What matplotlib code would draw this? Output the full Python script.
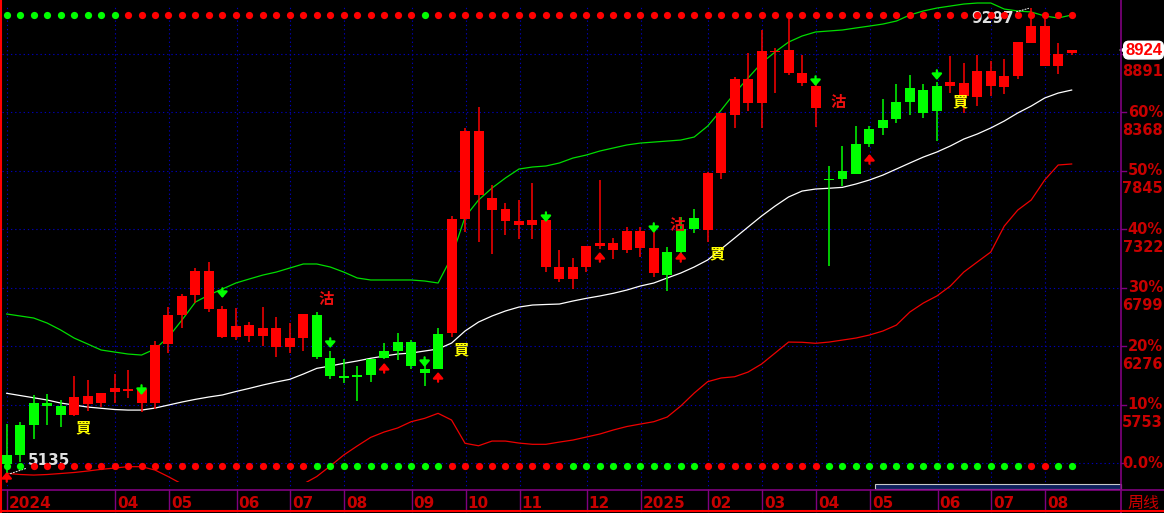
import matplotlib
matplotlib.use("Agg")
import matplotlib.pyplot as plt
import matplotlib.transforms as mtransforms
from matplotlib.lines import Line2D
from matplotlib.patches import Rectangle

# weekly candles, Feb 2024 .. Aug 2025
opens = [5304, 5572, 5772, 5772, 5742, 5662, 5760, 5772, 5870, 5876,
         5766, 5766, 6296, 6556, 6735, 6609, 6362, 6362, 6371, 6371,
         6272, 6272, 6353, 6556, 6171, 6013, 6019, 6162, 6234, 6314,
         6312, 6073, 6386, 6397, 7414, 7629, 7494, 7399, 7360, 7360,
         6988, 6878, 6878, 6988, 7175, 7137, 7137, 7157, 6929, 7122,
         7325, 7420, 7316, 7823, 8344, 8454, 8454, 8905, 8716, 8627,
         8409, 7775, 7845, 8084, 8218, 8298, 8457, 8582, 8567, 8603,
         8603, 8516, 8508, 8603, 8597, 8692, 8990, 8784, 8784, 8895]
highs = [5581, 5602, 5841, 5850, 5796, 6010, 5975, 5861, 6028, 6064,
         5894, 6326, 6630, 6744, 6973, 7030, 6640, 6621, 6496, 6630,
         6535, 6487, 6562, 6580, 6230, 6160, 6100, 6162, 6303, 6395,
         6333, 6160, 6442, 7444, 8228, 8418, 7718, 7554, 7584, 7735,
         7440, 7137, 7063, 7175, 7763, 7241, 7340, 7340, 7296, 7161,
         7429, 7503, 7835, 8360, 8680, 8901, 9104, 8946, 9245, 8880,
         8620, 7890, 8070, 8247, 8247, 8487, 8621, 8701, 8621, 8640,
         8871, 8806, 8880, 8823, 8842, 9000, 9297, 9208, 8990, 8925]
lows = [5135, 5240, 5447, 5572, 5557, 5653, 5700, 5731, 5772, 5816,
        5686, 5715, 6213, 6437, 6660, 6585, 6350, 6332, 6317, 6281,
        6183, 6219, 6234, 6160, 5984, 5950, 5790, 5960, 6160, 6153,
        6070, 5924, 6073, 6357, 7295, 7211, 7098, 7271, 7235, 7235,
        6938, 6854, 6788, 6943, 7150, 7056, 7107, 7077, 6898, 6773,
        7110, 7286, 7211, 7772, 8226, 8383, 8232, 8538, 8700, 8603,
        8241, 6997, 7712, 7814, 8060, 8165, 8275, 8344, 8320, 8114,
        8538, 8364, 8424, 8516, 8528, 8663, 8990, 8784, 8710, 8880]
closes = [5228, 5304, 5572, 5745, 5662, 5820, 5832, 5861, 5906, 5894,
          5894, 6288, 6556, 6726, 6952, 6952, 6609, 6457, 6466, 6442,
          6442, 6353, 6562, 6177, 6013, 5995, 5999, 6019, 6169, 6234,
          6103, 6035, 6073, 7414, 8201, 8201, 7604, 7503, 7399, 7405,
          7405, 6988, 6988, 7175, 7202, 7202, 7307, 7307, 7157, 6913,
          7122, 7325, 7823, 8360, 8666, 8666, 8916, 8912, 8925, 8722,
          8603, 7765, 7772, 7814, 8084, 8224, 8305, 8463, 8358, 8382,
          8641, 8627, 8737, 8737, 8692, 9000, 9139, 9139, 8889, 8924]

# bollinger lines
upper = [6565, 6547, 6529, 6484, 6422, 6350, 6297, 6243, 6225, 6207,
         6198, 6252, 6359, 6511, 6672, 6735, 6788, 6842, 6878, 6913,
         6940, 6976, 7012, 7012, 6985, 6940, 6887, 6869, 6869, 6869,
         6869, 6860, 6842, 7074, 7432, 7584, 7691, 7781, 7861, 7879,
         7888, 7915, 7959, 7986, 8022, 8049, 8076, 8093, 8102, 8111,
         8120, 8147, 8245, 8388, 8540, 8675, 8809, 8907, 8996, 9050,
         9086, 9095, 9104, 9122, 9139, 9157, 9184, 9238, 9274, 9300,
         9318, 9336, 9345, 9345, 9291, 9274, 9265, 9229, 9211, 9238]
middle = [5856, 5836, 5816, 5796, 5769, 5751, 5733, 5722, 5711, 5706,
          5706, 5724, 5751, 5778, 5802, 5823, 5841, 5872, 5900, 5930,
          5957, 5981, 6028, 6079, 6100, 6124, 6145, 6169, 6189, 6207,
          6216, 6234, 6252, 6305, 6413, 6493, 6547, 6592, 6627, 6645,
          6650, 6654, 6681, 6705, 6726, 6750, 6779, 6815, 6842, 6887,
          6931, 6985, 7048, 7146, 7244, 7343, 7441, 7530, 7611, 7664,
          7682, 7689, 7697, 7727, 7763, 7807, 7861, 7915, 7968, 8013,
          8067, 8129, 8174, 8228, 8290, 8362, 8424, 8496, 8540, 8567]
lower = [5141, 5130, 5125, 5130, 5139, 5148, 5161, 5176, 5188, 5200,
         5200, 5170, 5110, 5045, 4932, 4911, 4893, 4902, 4923, 4947,
         4973, 4986, 5045, 5112, 5206, 5304, 5385, 5462, 5510, 5546,
         5602, 5632, 5677, 5617, 5409, 5387, 5429, 5429, 5411, 5400,
         5400, 5420, 5438, 5465, 5492, 5528, 5559, 5581, 5602, 5644,
         5742, 5858, 5960, 5993, 6004, 6046, 6118, 6216, 6314, 6312,
         6303, 6314, 6332, 6350, 6377, 6413, 6466, 6583, 6663, 6726,
         6815, 6940, 7030, 7119, 7351, 7494, 7584, 7763, 7897, 7906]

# signal dot rows (G = green, R = red)
top_dots = ("GGGGGGGGGR" "RRRRRRRRRR" "RRRRRRRRRR" "RGRRRRRRRR"
            "RRRRRRRRRR" "RRRRRRRRRR" "RRRRRRRRRR" "RRRRRRRRRR")
bottom_dots = ("GGRRRRRRRR" "RRRRRRRRRR" "RRRGGGGGGG" "GGGRRRRRRR"
               "RRGGGGGGGG" "GGRRRRRRRR" "RGGGGGGGGG" "GGGGGGRRGG")

down_arrow_bars = [10, 16, 24, 31, 40, 48, 60, 69]
down_arrow_tips = [5841, 6708, 6261, 6091, 7387, 7289, 8603, 8657]
up_arrow_bars = [0, 28, 32, 44, 50, 64]
up_arrow_tips = [5152, 6127, 6046, 7119, 7119, 7995]

buy_bars = [5, 33, 52, 70]
buy_prices = [5550, 6247, 7110, 8469]
sell_bars = [23, 49, 61]
sell_prices = [6703, 7360, 8456]

month_bars = [0, 8, 12, 17, 21, 25, 30, 34, 38, 43, 47, 52, 56, 60, 64, 69, 73, 77]
month_labels = ['2024', '04', '05', '06', '07', '08', '09', '10', '11', '12',
                '2025', '02', '03', '04', '05', '06', '07', '08']

# 70% level sits under the last-price tag, so its label is left out
grid_prices = [5230, 5753, 6276, 6799, 7322, 7845, 8368, 8891]
pct_labels = ['0.0%', '10%', '20%', '30%', '40%', '50%', '60%', '']
price_labels = ['', '5753', '6276', '6799', '7322', '7845', '8368', '8891']
last_price = 8924

RED = '#ff0000'
GREEN = '#00ff00'
DKRED = '#c80000'
PURPLE = '#800080'
GRIDC = '#0000b8'
CJK = ['Noto Sans CJK TC', 'DejaVu Sans']

W, H = 1164, 513
fig = plt.figure(figsize=(W / 100, H / 100), dpi=100, facecolor='black')
ax = fig.add_axes([2 / W, 1 - 482 / H, 1119 / W, 482 / H])
ax.set_facecolor('black')
ax.set_xlim(-0.35, 82.66)
ax.set_ylim(5063, 9372)
ax.set_xticks([])
ax.set_yticks([])
for s in ax.spines.values():
    s.set_visible(False)

xaxis_tr = ax.get_xaxis_transform()
right_tr = mtransforms.blended_transform_factory(fig.transFigure, ax.transData)

# grid
for gp in grid_prices:
    ax.axhline(gp, color=GRIDC, lw=0.8, ls=(0, (1.2, 2.6)), zorder=1)
for mb in month_bars:
    ax.axvline(mb + 0.05, ymin=-0.016, ymax=0.985, color=GRIDC, lw=0.8,
               ls=(0, (1.2, 2.6)), zorder=1, clip_on=False)

# bands
x = list(range(len(closes)))
ax.plot(x, upper, color='#00dd00', lw=0.9, zorder=3)
ax.plot(x, middle, color='white', lw=0.9, zorder=3)
ax.plot(x, lower, color='#ee0000', lw=0.9, zorder=3)

# candles
for i in x:
    o, h, l, c = opens[i], highs[i], lows[i], closes[i]
    col = RED if c >= o else GREEN
    ax.vlines(i, l, h, color=col, lw=1.1, zorder=4)
    ax.bar(i, max(abs(c - o), 10), bottom=min(o, c), width=0.74,
           color=col, lw=0, zorder=4)

# dot rows
for i, ch in enumerate(top_dots):
    ax.plot(i, 0.969, 'o', ms=5.2, color=GREEN if ch == 'G' else RED,
            mew=0, transform=xaxis_tr, zorder=6, clip_on=False)
for i, ch in enumerate(bottom_dots):
    ax.plot(i, 0.034, 'o', ms=5.2, color=GREEN if ch == 'G' else RED,
            mew=0, transform=xaxis_tr, zorder=6, clip_on=False)

# arrows
for b, tip in zip(down_arrow_bars, down_arrow_tips):
    ax.annotate('', xy=(b, tip), xytext=(0, 7), textcoords='offset points',
                arrowprops=dict(arrowstyle='-|>,head_length=0.35,head_width=0.3',
                                color=GREEN, lw=1.6, mutation_scale=10,
                                shrinkA=0, shrinkB=0), zorder=7)
for b, tip in zip(up_arrow_bars, up_arrow_tips):
    ax.annotate('', xy=(b, tip), xytext=(0, -7), textcoords='offset points',
                arrowprops=dict(arrowstyle='-|>,head_length=0.35,head_width=0.3',
                                color=RED, lw=1.6, mutation_scale=10,
                                shrinkA=0, shrinkB=0), zorder=7)

# buy / sell text
for b, p in zip(buy_bars, buy_prices):
    ax.text(b + 0.7, p, '買', color='#ffff00', fontsize=11, fontweight='bold',
            family=CJK, ha='center', va='center', zorder=8)
for b, p in zip(sell_bars, sell_prices):
    ax.text(b + 0.7, p, '沽', color='#ee1010', fontsize=11, fontweight='bold',
            family=CJK, ha='center', va='center', zorder=8)

# low / high markers
lo_i = lows.index(min(lows))
hi_i = highs.index(max(highs))
ax.annotate(str(min(lows)), xy=(lo_i + 0.2, min(lows)), xytext=(1.6, 5255),
            color='#e0e0e0', fontsize=11, fontweight='bold', ha='left', va='center',
            arrowprops=dict(arrowstyle='-', color='#e0e0e0', lw=0.8, ls=':',
                            shrinkA=0, shrinkB=0), zorder=5)
ax.annotate(str(max(highs)), xy=(hi_i - 0.2, max(highs)), xytext=(74.7, 9205),
            color='#e0e0e0', fontsize=11, fontweight='bold', ha='right', va='center',
            arrowprops=dict(arrowstyle='-', color='#e0e0e0', lw=0.8, ls=':',
                            shrinkA=0, shrinkB=0), zorder=5)

# right axis labels
for gp, pl, prl in zip(grid_prices, pct_labels, price_labels):
    if pl:
        ax.text(1163 / W, gp, pl, transform=right_tr, color=DKRED, fontsize=10.5,
                fontweight='bold', ha='right', va='center', clip_on=False)
    if prl:
        ax.annotate(prl, xy=(1163 / W, gp), xycoords=right_tr, xytext=(0, -12.8),
                    textcoords='offset points', color=DKRED, fontsize=10.5,
                    fontweight='bold', ha='right', va='center', annotation_clip=False)
    ax.plot([1121 / W, 1126 / W], [gp, gp], color=PURPLE, lw=1, transform=right_tr,
            clip_on=False)

# last price tag
ax.text(1162 / W, last_price, str(last_price), transform=right_tr, color=RED,
        fontsize=12, fontweight='bold', family='Liberation Sans', ha='right',
        va='center', zorder=10,
        bbox=dict(boxstyle='round,pad=0.08,rounding_size=0.3', fc='white', ec='white'),
        clip_on=False)
ax.plot(1122 / W, last_price, marker='<', ms=5, color='white', mew=0,
        transform=right_tr, clip_on=False, zorder=10)

# month labels and ticks on the date strip
for mb, ml in zip(month_bars, month_labels):
    ax.text(mb + 0.18, -0.0436, ml, transform=xaxis_tr, color=DKRED, fontsize=11,
            fontweight='bold', ha='left', va='center', clip_on=False)
    ax.plot([mb + 0.05, mb + 0.05], [-0.0166, -0.06], color=PURPLE, lw=1,
            transform=xaxis_tr, clip_on=False)
fig.text(1127 / W, 1 - 503 / H, '周线', color=DKRED, fontsize=11.5, family=CJK,
         ha='left', va='center')

# frame lines
fig.add_artist(Line2D([0, 1], [1 - 490 / H] * 2, color=PURPLE, lw=1.2))
fig.add_artist(Line2D([1121 / W] * 2, [0, 1], color=PURPLE, lw=1.2))
fig.add_artist(Line2D([0, 1], [1 - 511 / H] * 2, color=RED, lw=1.5))
fig.add_artist(Line2D([1 / W] * 2, [0, 1], color=RED, lw=1.5))
fig.add_artist(Rectangle((875 / W, 1 - 489 / H), 246 / W, 5 / H,
                         transform=fig.transFigure, fc='#0c1f5c', ec='#c8c8c8', lw=0.8))

fig.savefig('out.png', dpi=100, facecolor='black')
